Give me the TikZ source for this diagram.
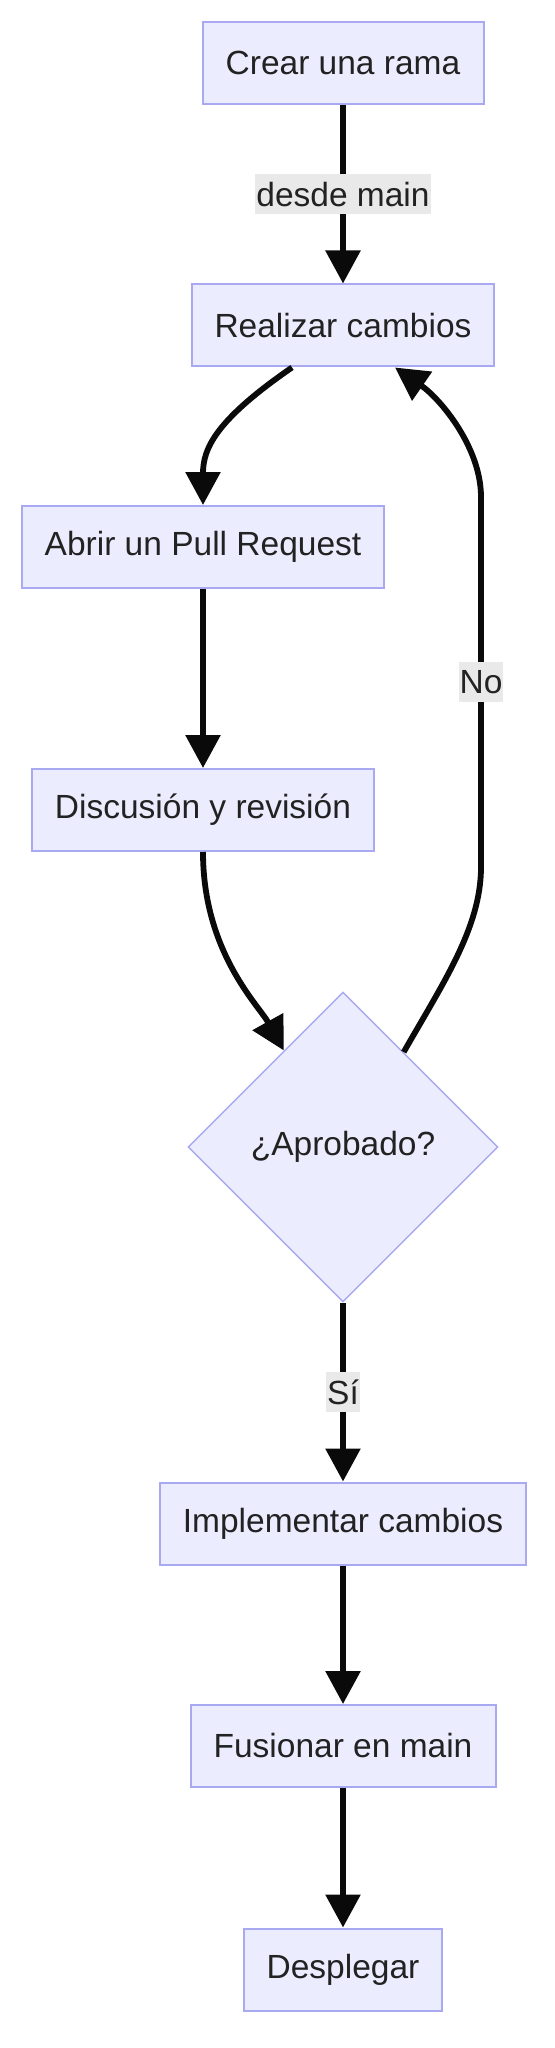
\documentclass[tikz,border=0pt]{standalone}
\usepackage{fontspec}
\setmainfont{Liberation Sans}
\usetikzlibrary{arrows.meta,shapes.geometric,calc}
\definecolor{nodefill}{HTML}{ECECFF}
\definecolor{nodeborder}{HTML}{A9A9F2}
\definecolor{labelbg}{HTML}{E9E9E9}
\definecolor{txt}{HTML}{222222}
\definecolor{edgecol}{HTML}{0A0A0A}
\begin{document}
\begin{tikzpicture}[x=0.5pt,y=-0.5pt,
  lbl/.style={text=txt, font=\fontsize{16.75}{20}\selectfont},
  box/.style={lbl, draw=nodeborder, fill=nodefill, line width=1pt, minimum height=41pt, inner sep=0pt},
  decision/.style={lbl, diamond, aspect=1, draw=nodeborder, fill=nodefill, line width=0.7pt, minimum width=155pt, minimum height=155pt, inner sep=0pt},
  elabel/.style={lbl, fill=labelbg, inner xsep=0.5pt, inner ysep=0pt, minimum height=20pt},
  flow/.style={draw=edgecol, line width=2.9pt, -{Triangle[length=16.5pt,width=17pt]}}
]
\useasboundingbox (0,0) rectangle (554,2048);

\node[box, minimum width=140.5pt] (crear)    at (343,63)     {Crear una rama};
\node[box, minimum width=151pt]   (realizar) at (343,325.5)  {Realizar cambios};
\node[box, minimum width=181pt]   (abrir)    at (203,547)    {Abrir un Pull Request};
\node[box, minimum width=171pt]   (disc)     at (203,810)    {Discusión y revisión};
\node[decision]                   (dia)      at (343,1147)   {¿Aprobado?};
\node[box, minimum width=183pt]   (impl)     at (343,1523.5) {Implementar cambios};
\node[box, minimum width=152.5pt] (fus)      at (343,1746)   {Fusionar en main};
\node[box, minimum width=99pt]    (desp)     at (343,1969.5) {Desplegar};

\coordinate (nolow)  at (481,867);
\coordinate (nohigh) at (481,497);

\draw[flow] (crear) -- node[elabel] {desde main} (realizar);
\draw[flow] ([xshift=-25.5pt]realizar.south) .. controls +(-77,53) and +(0,-56) .. (abrir.north);
\draw[flow] (abrir) -- (disc);
\draw[flow] (disc.south) .. controls +(0,100) and +(-25,-45) .. ($(dia.north)!0.38!(dia.west)$);
\draw[flow] ($(dia.north)!0.39!(dia.east)$) .. controls +(40,-70) and +(0,60) .. (nolow)
  -- node[elabel] {No} (nohigh)
  .. controls +(0,-50) and +(45,31) .. ([xshift=26pt]realizar.south);
\draw[flow] (dia) -- node[elabel] {Sí} (impl);
\draw[flow] (impl) -- (fus);
\draw[flow] (fus) -- (desp);
\end{tikzpicture}
\end{document}
